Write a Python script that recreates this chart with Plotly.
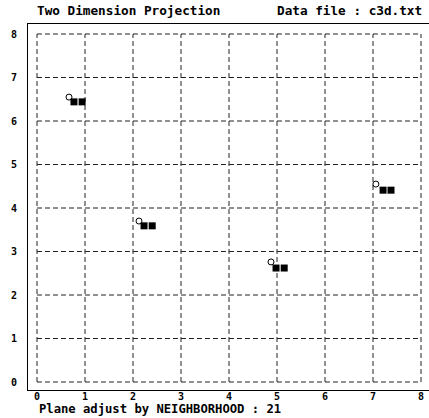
import plotly.graph_objects as go

# Data
circle_x = [0.667, 2.125, 4.875, 7.06]
circle_y = [6.55, 3.70, 2.76, 4.55]
square_x = [0.77, 0.94, 2.23, 2.40, 4.98, 5.15, 7.21, 7.375]
square_y = [6.44, 6.44, 3.59, 3.59, 2.62, 2.62, 4.41, 4.41]
x_ticks = [0, 1, 2, 3, 4, 5, 6, 7, 8]
y_ticks = [0, 1, 2, 3, 4, 5, 6, 7, 8]
title_left = "Two Dimension Projection"
title_right = "Data file : c3d.txt"
footer = "Plane adjust by NEIGHBORHOOD : 21"

MONO = "DejaVu Sans Mono"

fig = go.Figure()

fig.add_trace(go.Scatter(
    x=circle_x, y=circle_y, mode="markers",
    marker=dict(symbol="circle-open", size=6, color="black", line=dict(width=1, color="black")),
    showlegend=False, hoverinfo="skip"))
fig.add_trace(go.Scatter(
    x=square_x, y=square_y, mode="markers",
    marker=dict(symbol="square", size=7, color="black", line=dict(width=0)),
    showlegend=False, hoverinfo="skip"))

# dashed grid bounded by the tick range
shapes = []
for v in x_ticks:
    shapes.append(dict(type="line", xref="x", yref="y", x0=v, x1=v, y0=y_ticks[0], y1=y_ticks[-1],
                       line=dict(color="#222", width=1, dash="5px,3px"), layer="below"))
for v in y_ticks:
    shapes.append(dict(type="line", xref="x", yref="y", y0=v, y1=v, x0=x_ticks[0], x1=x_ticks[-1],
                       line=dict(color="#222", width=1, dash="5px,3px"), layer="below"))

annotations = [
    dict(text="<b>%s</b>" % title_left, xref="paper", yref="paper", x=0.0175, y=1.0, yshift=14,
         xanchor="left", yanchor="middle", showarrow=False, font=dict(family=MONO, size=12.7, color="black")),
    dict(text="<b>%s</b>" % title_right, xref="paper", yref="paper", x=0.6165, y=1.0, yshift=14,
         xanchor="left", yanchor="middle", showarrow=False, font=dict(family=MONO, size=12.7, color="black")),
    dict(text="<b>%s</b>" % footer, xref="paper", yref="paper", x=0.022, y=0.0, yshift=-19,
         xanchor="left", yanchor="middle", showarrow=False, font=dict(family=MONO, size=12.2, color="black")),
]

fig.update_layout(
    width=429, height=418,
    margin=dict(l=28, r=0, t=24, b=28),
    paper_bgcolor="white", plot_bgcolor="white",
    shapes=shapes, annotations=annotations,
    xaxis=dict(range=[-0.1875, 8.1667], tickvals=x_ticks, ticktext=["<b>%d</b>" % v for v in x_ticks],
               showgrid=False, zeroline=False, showline=True, mirror=True, linecolor="black", linewidth=1,
               ticks="", ticklabelstandoff=-3, tickfont=dict(family=MONO, size=10, color="black")),
    yaxis=dict(range=[-0.184, 8.23], tickvals=y_ticks, ticktext=["<b>%d</b>" % v for v in y_ticks],
               showgrid=False, zeroline=False, showline=True, mirror=False, linecolor="black", linewidth=1,
               ticks="", ticklabelstandoff=8, tickfont=dict(family=MONO, size=10, color="black")),
)

fig.write_html("out.html")
